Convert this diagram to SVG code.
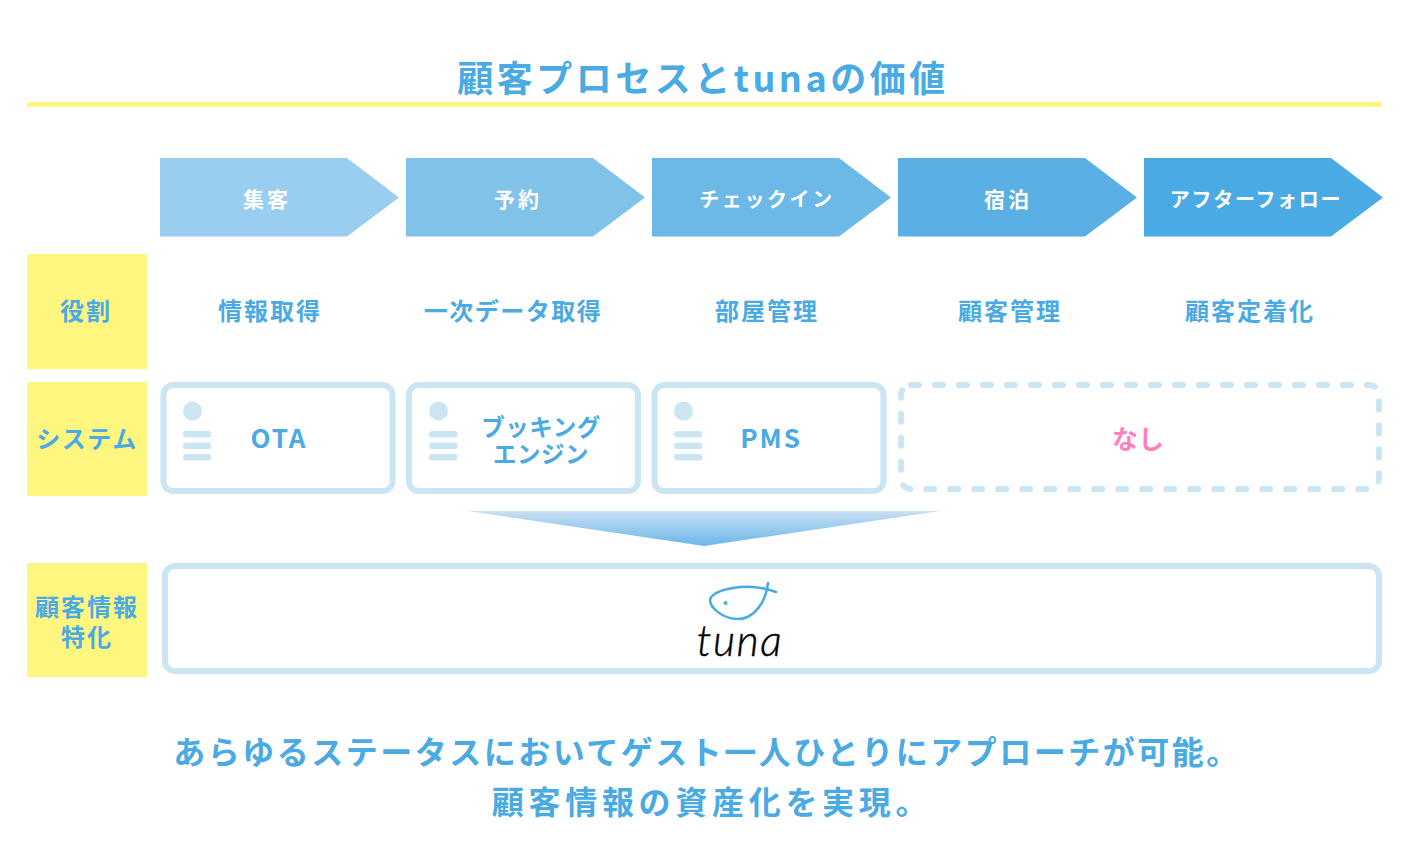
<svg xmlns="http://www.w3.org/2000/svg" width="1410" height="867" viewBox="0 0 1410 867">
<style>
text{font-family:"Noto Sans CJK JP","Noto Sans",sans-serif;font-weight:700;text-anchor:middle;fill:#4aaae3}
.w{fill:#fff;font-size:20px;letter-spacing:2px}
.k{fill:#fff;font-size:21px;letter-spacing:3px}
.l{font-size:24px;letter-spacing:2px}
.h{font-size:24px;letter-spacing:2px}
.box{fill:#fff;stroke:#cce5f3;stroke-width:6}
.ic{fill:#cce5f3}
.y{fill:#fff67f}
</style>
<defs>
<linearGradient id="g" x1="0" y1="0" x2="0" y2="1"><stop offset="0" stop-color="#c8dff5"/><stop offset="1" stop-color="#6cb6e8"/></linearGradient>
<g id="icon" class="ic"><circle cx="192.500" cy="411" r="9.500"/><rect x="183" y="431" width="28.500" height="6.500" rx="3.250"/><rect x="183" y="442.500" width="28.500" height="6.500" rx="3.250"/><rect x="183" y="454" width="28.500" height="6.500" rx="3.250"/></g>
</defs>
<rect width="1410" height="867" fill="#fff"/>
<g id="title"><text x="703" y="92" style="font-size:36px;letter-spacing:3.500px">顧客プロセスとtunaの価値</text><rect x="27" y="102" width="1355" height="5" class="y"/></g>
<g id="step1"><path d="M160 158H347L399 197.500 347 236.500H160Z" fill="#9acef0"/><text x="267" y="206.500" class="k">集客</text></g>
<g id="step2"><path d="M406 158H593L645 197.500 593 236.500H406Z" fill="#81c2e9"/><text x="518" y="206.500" class="k">予約</text></g>
<g id="step3"><path d="M652 158H839L891 197.500 839 236.500H652Z" fill="#6cb8e6"/><text x="767" y="206.500" class="w" style="letter-spacing:2.600px">チェックイン</text></g>
<g id="step4"><path d="M898 158H1085L1137 197.500 1085 236.500H898Z" fill="#5ab0e5"/><text x="1008" y="206.500" class="k">宿泊</text></g>
<g id="step5"><path d="M1144 158H1331L1383 197.500 1331 236.500H1144Z" fill="#4aaae3"/><text x="1256" y="206.500" class="w" style="letter-spacing:1.700px">アフターフォロー</text></g>
<g id="role-label"><rect x="27" y="254" width="120" height="115" class="y"/><text x="86" y="320" class="h">役割</text></g>
<g id="role1"><text x="270" y="320" class="l">情報取得</text></g>
<g id="role2"><text x="513" y="320" class="l" style="letter-spacing:1.500px">一次データ取得</text></g>
<g id="role3"><text x="767" y="320" class="l">部屋管理</text></g>
<g id="role4"><text x="1010" y="320" class="l">顧客管理</text></g>
<g id="role5"><text x="1250" y="320" class="l" style="letter-spacing:2px">顧客定着化</text></g>
<g id="system-label"><rect x="27" y="382" width="120" height="114" class="y"/><text x="87" y="448" class="h" style="letter-spacing:1.500px;font-size:24px">システム</text></g>
<g id="ota"><rect x="163.500" y="385" width="229" height="106" rx="10" class="box"/><use href="#icon"/><text x="279" y="448" style="font-size:26px;letter-spacing:2px">OTA</text></g>
<g id="booking"><rect x="409" y="385" width="229" height="106" rx="10" class="box"/><use href="#icon" x="246"/><text x="541" y="435.500" style="font-size:23.500px;letter-spacing:.5px">ブッキング</text><text x="541" y="463" style="font-size:23.500px;letter-spacing:.5px">エンジン</text></g>
<g id="pms"><rect x="654.500" y="385" width="229" height="106" rx="10" class="box"/><use href="#icon" x="491"/><text x="771" y="448" style="font-size:26px;letter-spacing:2px">PMS</text></g>
<g id="none"><rect x="901" y="385" width="478" height="104" rx="10" fill="#fff" stroke="#cce5f3" stroke-width="6" stroke-dasharray="8 16" stroke-linecap="round"/><text x="1138" y="449" style="fill:#ff7fbf;font-size:26px">なし</text></g>
<g id="funnel"><path d="M468 511H940L704 546Z" fill="url(#g)"/></g>
<g id="info-label"><rect x="27" y="563" width="120" height="114" class="y"/><text x="87" y="616" class="h">顧客情報</text><text x="87" y="646" class="h">特化</text></g>
<g id="tuna"><rect x="165" y="566" width="1214" height="105" rx="10" class="box"/>
<path d="M776 592C760 586 745 586 733 588 722 590 711 594 710 600 710 607 722 619 738 619 754 619 766 602 768 583" fill="none" stroke="#4aaae3" stroke-width="2.500" stroke-linecap="round"/><circle cx="725.500" cy="603" r="2" fill="#4aaae3"/>
<text x="740" y="656" style="font-family:Lato,sans-serif;font-weight:300;font-style:italic;font-size:43px;fill:#000;stroke:#000;stroke-width:.4;letter-spacing:1.500px">tuna</text></g>
<g id="summary"><text x="707" y="764" style="font-size:32px;letter-spacing:2.500px">あらゆるステータスにおいてゲスト一人ひとりにアプローチが可能。</text><text x="712" y="814" style="font-size:32px;letter-spacing:4.700px">顧客情報の資産化を実現。</text></g>
</svg>
